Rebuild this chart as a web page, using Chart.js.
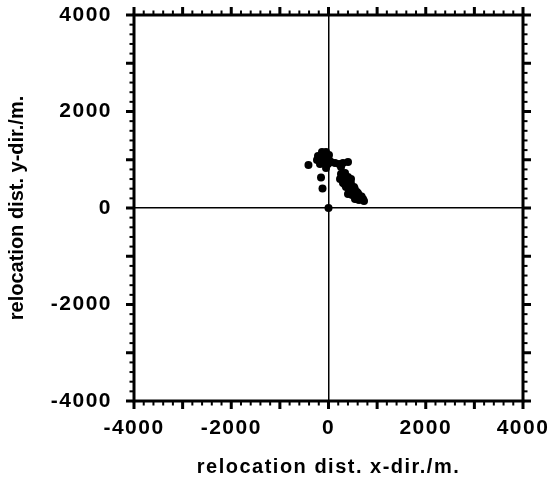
<!DOCTYPE html>
<html>
<head>
<meta charset="utf-8">
<script src="https://cdn.jsdelivr.net/npm/chart.js@4/dist/chart.umd.min.js"></script>
<style>
  body { margin: 0; background: #fff; }
</style>
</head>
<body>
<canvas id="relocChart" width="554" height="483"></canvas>
<script>
// relocation distances (metres)
const xDist = [-216, -134, -51, 10, -237, -154, -72, 10, -175, -93, -10, -51, 51, 134, 216, 298, 401, 257,
  -412, -154, -123, 0,
  257, 340, 237, 319, 401, 298, 381, 422, 360, 442, 525, 422, 504, 586, 483, 566, 648, 628, 710, 545, 730, 401,
  463, 340, 460, 540, 610, 680, 590, 520];
const yDist = [1078, 1161, 1161, 1098, 995, 1036, 1057, 995, 912, 933, 912, 829, 953, 933, 912, 933, 953, 850,
  891, 632, 404, 0,
  705, 725, 601, 622, 642, 518, 539, 580, 435, 456, 435, 352, 352, 332, 269, 249, 249, 166, 187, 187, 145, 290,
  600, 480, 520, 400, 300, 240, 180, 300];
const tickLabels = [-4000, -2000, 0, 2000, 4000];
const axisMin = -4000;
const axisMax = 4000;
const minorStep = 200;
const majorStep = 1000;

const points = xDist.map((x, i) => ({ x: x, y: yDist[i] }));

const labelFont = { family: "'Liberation Sans', Arial, sans-serif", size: 21, weight: 'bold' };
const titleFont = { family: "'Liberation Sans', Arial, sans-serif", size: 20, weight: 'bold' };

function zeroLine(ctx) {
  return ctx.tick && ctx.tick.value === 0 ? '#000' : 'rgba(0,0,0,0)';
}

// frame with outward ticks on all four sides
const frameTicks = {
  id: 'frameTicks',
  beforeDraw(chart) {
    chart.ctx.letterSpacing = '0px';
  },
  afterDatasetsDraw(chart) {
    const { ctx, chartArea: a, scales: { x, y } } = chart;
    ctx.save();
    ctx.fillStyle = '#000';
    for (let v = axisMin; v <= axisMax; v += minorStep) {
      const major = v % majorStep === 0;
      const len = major ? 8 : 4.5;
      const w = major ? 3 : 2;
      const px = x.getPixelForValue(v);
      const py = y.getPixelForValue(v);
      ctx.fillRect(px - w / 2, a.top - len, w, len);
      ctx.fillRect(px - w / 2, a.bottom, w, len);
      ctx.fillRect(a.left - len, py - w / 2, len, w);
      ctx.fillRect(a.right, py - w / 2, len, w);
    }
    ctx.lineWidth = 3;
    ctx.strokeStyle = '#000';
    ctx.strokeRect(a.left, a.top, a.right - a.left, a.bottom - a.top);
    ctx.restore();
    // the scan is stretched sideways, so widen horizontal text a little
    ctx.letterSpacing = '1.5px';
  }
};

const ctx = document.getElementById('relocChart').getContext('2d');
const relocChart = new Chart(ctx, {
  type: 'scatter',
  data: {
    datasets: [{
      data: points,
      backgroundColor: '#000',
      borderWidth: 0,
      pointRadius: 4,
      pointHoverRadius: 4
    }]
  },
  options: {
    responsive: false,
    animation: false,
    devicePixelRatio: 1,
    layout: { padding: { top: 15, right: 31, left: 0, bottom: 0 } },
    plugins: {
      legend: { display: false },
      tooltip: { enabled: false }
    },
    scales: {
      x: {
        type: 'linear',
        min: axisMin,
        max: axisMax,
        afterBuildTicks: s => { s.ticks = tickLabels.map(v => ({ value: v })); },
        afterFit: s => { s.height = 82; s.paddingLeft = 0; s.paddingRight = 0; },
        grid: { color: zeroLine, lineWidth: 1.5, drawTicks: false, z: 1 },
        border: { display: false },
        ticks: { font: labelFont, color: '#000', padding: 15, maxRotation: 0, autoSkip: false, z: 1,
          callback: v => String(v) },
        title: { display: true, text: 'relocation dist. x-dir./m.', font: titleFont, color: '#000', padding: { top: 0, bottom: 4 } }
      },
      y: {
        type: 'linear',
        min: axisMin,
        max: axisMax,
        afterBuildTicks: s => { s.ticks = tickLabels.map(v => ({ value: v })); },
        afterFit: s => { s.width = 134; s.paddingTop = 0; s.paddingBottom = 0; },
        grid: { color: zeroLine, lineWidth: 1.5, drawTicks: false },
        border: { display: false },
        ticks: { font: labelFont, color: '#000', padding: 22, autoSkip: false, z: 1,
          callback: v => String(v) },
        title: { display: true, text: 'relocation dist. y-dir./m.', font: titleFont, color: '#000', padding: { top: 5, bottom: 0 } }
      }
    }
  },
  plugins: [frameTicks]
});
</script>
</body>
</html>
